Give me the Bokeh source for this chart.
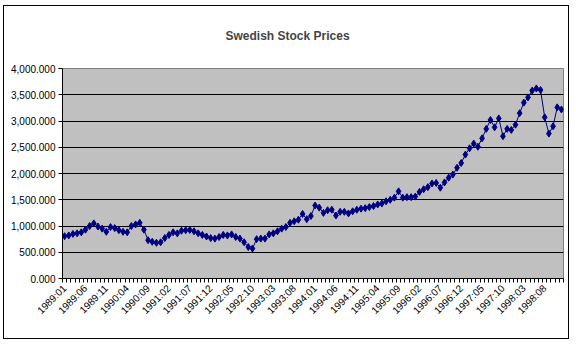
from bokeh.plotting import figure
from bokeh.models import FixedTicker, NumeralTickFormatter, ColumnDataSource, Range1d, InlineStyleSheet
from bokeh.embed import file_html
from bokeh.resources import INLINE
import math

years = list(range(1989, 1999))
month_nums = list(range(1, 13))
months = [f"{y}:{m:02d}" for y in years for m in month_nums]

prices = [
    806, 820, 850, 860, 880, 930, 1000, 1050, 990, 950, 890, 980,      # 1989
    960, 920, 890, 880, 1000, 1030, 1060, 930, 730, 700, 680, 690,     # 1990
    770, 830, 880, 860, 910, 920, 925, 900, 860, 830, 800, 770,        # 1991
    760, 790, 830, 820, 840, 790, 760, 690, 600, 570, 750, 760,        # 1992
    760, 840, 860, 900, 950, 980, 1060, 1090, 1120, 1230, 1130, 1190,  # 1993
    1390, 1350, 1250, 1300, 1310, 1200, 1270, 1270, 1240, 1280, 1310, 1330,  # 1994
    1340, 1360, 1380, 1410, 1430, 1470, 1500, 1540, 1660, 1540, 1550, 1550,  # 1995
    1560, 1650, 1700, 1740, 1810, 1820, 1730, 1830, 1920, 1980, 2110, 2200,  # 1996
    2360, 2480, 2570, 2510, 2670, 2850, 3020, 2880, 3050, 2710, 2850, 2830,  # 1997
    2930, 3150, 3350, 3450, 3580, 3620, 3590, 3070, 2760, 2900, 3260, 3220,  # 1998
]
label_step = 5
y_ticks = [0, 500, 1000, 1500, 2000, 2500, 3000, 3500, 4000]
title_text = "Swedish Stock Prices"

idx = list(range(len(months)))
src = ColumnDataSource(dict(x=idx, y=prices, m=months))

p = figure(width=576, height=353, output_backend="svg", toolbar_location=None,
           x_range=Range1d(-0.5, len(months) - 0.5), y_range=Range1d(0, 4000),
           min_border_left=62, min_border_right=13, min_border_top=68, min_border_bottom=75,
           title=title_text)
p.background_fill_color = "#C0C0C0"
p.border_fill_color = "white"
p.outline_line_color = "#808080"

# outer chart frame drawn with CSS above the canvas layers
p.stylesheets = [InlineStyleSheet(css="""
:host { position: relative; }
:host::after {
  content: "";
  position: absolute;
  left: 3px; top: 5px; width: 566px; height: 334px;
  border: 1px solid #000000;
  box-sizing: border-box;
  pointer-events: none;
  z-index: 100;
}
""")]

p.title.text_font = "Liberation Sans"
p.title.text_font_size = "12px"
p.title.text_font_style = "bold"
p.title.align = "left"
p.title.offset = 163
p.title.standoff = 52

p.line("x", "y", source=src, line_color="#000080", line_width=1)
p.scatter("x", "y", source=src, marker="diamond", size=7, fill_color="#000080", line_color="#000080")

# y axis
p.yaxis.ticker = FixedTicker(ticks=y_ticks)
p.yaxis.formatter = NumeralTickFormatter(format="0,0.000")
p.yaxis.major_label_text_font = "Liberation Sans"
p.yaxis.major_label_text_font_size = "10px"
p.yaxis.major_label_text_color = "#000000"
p.yaxis.axis_line_color = "#000000"
p.yaxis.major_tick_line_color = "#000000"
p.yaxis.major_tick_out = 4
p.yaxis.major_tick_in = 0
p.yaxis.minor_tick_line_color = None
p.yaxis.major_label_standoff = 3

# x axis
label_idx = idx[::label_step]
p.xaxis.ticker = FixedTicker(ticks=label_idx, minor_ticks=[i - 0.5 for i in range(len(months) + 1)])
p.xaxis.major_label_overrides = {i: months[i] for i in label_idx}
p.xaxis.major_label_orientation = math.pi / 4
p.xaxis.major_label_text_font = "Liberation Sans"
p.xaxis.major_label_text_font_size = "10px"
p.xaxis.major_label_text_color = "#000000"
p.xaxis.axis_line_color = "#000000"
p.xaxis.major_tick_out = 0
p.xaxis.major_tick_in = 0
p.xaxis.minor_tick_out = 4
p.xaxis.minor_tick_in = 0
p.xaxis.minor_tick_line_color = "#000000"
p.xaxis.major_label_standoff = 4

p.xgrid.grid_line_color = None
p.ygrid.grid_line_color = "#000000"
p.ygrid.grid_line_width = 1

open("out.html", "w").write(file_html(p, INLINE))
